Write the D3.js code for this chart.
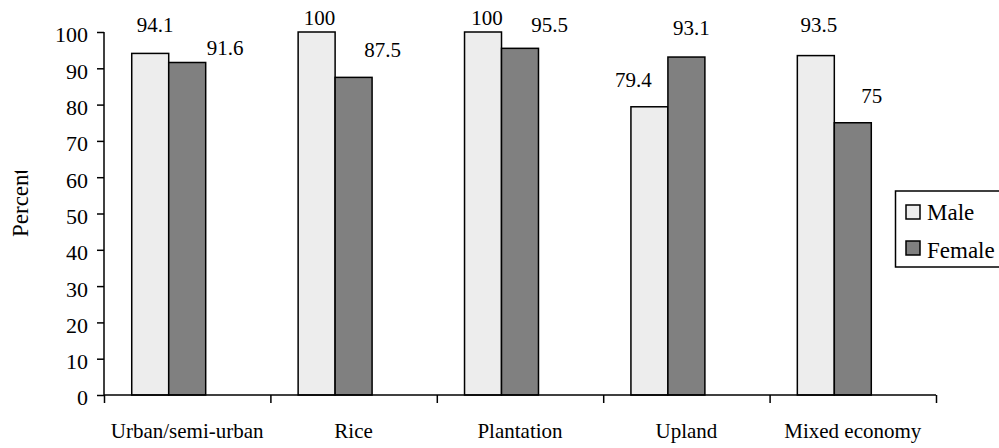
<!DOCTYPE html>
<html>
<head>
<meta charset="utf-8">
<script src="https://cdn.jsdelivr.net/npm/d3@7"></script>
<style>
  html, body { margin: 0; padding: 0; background: #fff; }
  svg { display: block; }
  svg text { font-family: "Liberation Serif", "Times New Roman", Times, Tinos, "DejaVu Serif", serif !important; fill: #000; }
</style>
</head>
<body>
<svg id="chart" width="999" height="448"></svg>
<script>
// ---- data ----
const categories = ["Urban/semi-urban", "Rice", "Plantation", "Upland", "Mixed economy"];
const seriesNames = ["Male", "Female"];
const maleValues = [94.1, 100, 100, 79.4, 93.5];
const femaleValues = [91.6, 87.5, 95.5, 93.1, 75];
const yTicks = [0, 10, 20, 30, 40, 50, 60, 70, 80, 90, 100];
const yTitle = "Percent";

// label placement tweaks (pixels, relative to bar centre / top) as in the original
const maleLabelOffsets = [[5, -21], [3, -7], [4, -7], [-16, -20], [3, -24]];
const femaleLabelOffsets = [[38, -7.5], [29, -20], [29.5, -16], [5, -22], [19, -20]];

const colors = { Male: "#ededed", Female: "#808080" };
const FONT = '"Liberation Serif", "Times New Roman", Times, Tinos, "DejaVu Serif", serif';

const svg = d3.select("#chart").attr("font-family", FONT);
const mLeft = 104, mRight = 936, mTop = 32, mBottom = 395;

const x = d3.scaleBand().domain(categories).range([mLeft, mRight]).padding(0);
// three slots per group (third empty), as the original chart layout
const x1 = d3.scaleBand().domain(["Male", "Female", "_"]).range([0, x.bandwidth()])
  .paddingInner(0).paddingOuter(0.75);
const y = d3.scaleLinear().domain([0, 100]).range([mBottom, mTop]);

const rows = categories.map((c, i) => ({ cat: c, Male: maleValues[i], Female: femaleValues[i], i }));

// bars
const g = svg.append("g");
seriesNames.forEach(s => {
  g.selectAll("rect." + s).data(rows).enter().append("rect")
    .attr("class", s)
    .attr("x", d => x(d.cat) + x1(s))
    .attr("y", d => y(d[s]))
    .attr("width", x1.bandwidth())
    .attr("height", d => y(0) - y(d[s]))
    .attr("fill", colors[s])
    .attr("stroke", "#000")
    .attr("stroke-width", 1.5);
});

// value labels
seriesNames.forEach(s => {
  const offs = s === "Male" ? maleLabelOffsets : femaleLabelOffsets;
  g.selectAll("text.lab" + s).data(rows).enter().append("text")
    .attr("class", "lab" + s)
    .attr("x", d => x(d.cat) + x1(s) + x1.bandwidth() / 2 + offs[d.i][0])
    .attr("y", d => y(d[s]) + offs[d.i][1])
    .attr("text-anchor", "middle")
    .attr("font-family", FONT)
    .attr("font-size", 21)
    .text(d => d[s]);
});

// y axis
const yAxis = svg.append("g").attr("transform", `translate(${mLeft},0)`)
  .call(d3.axisLeft(y).tickValues(yTicks).tickSize(7).tickPadding(9).tickFormat(d3.format("d")));
yAxis.attr("font-family", FONT).attr("font-size", 22);
yAxis.select(".domain").attr("stroke", "#000").attr("stroke-width", 1.5).attr("d", `M0,${mTop}V${mBottom}`);
yAxis.selectAll(".tick line").attr("stroke", "#000").attr("stroke-width", 1.5);
yAxis.selectAll(".tick text").attr("dy", "0.45em");

// x axis (ticks at group boundaries)
const xb = d3.scaleLinear().domain([0, categories.length]).range([mLeft, mRight]);
const xAxis = svg.append("g").attr("transform", `translate(0,${mBottom})`)
  .call(d3.axisBottom(xb).tickValues(d3.range(categories.length + 1)).tickSize(8).tickFormat(""));
xAxis.select(".domain").attr("stroke", "#000").attr("stroke-width", 1.5).attr("d", `M${mLeft},0H${mRight}`);
xAxis.selectAll(".tick line").attr("stroke", "#000").attr("stroke-width", 1.5);

// category labels
svg.selectAll("text.cat").data(categories).enter().append("text")
  .attr("class", "cat")
  .attr("x", d => x(d) + x.bandwidth() / 2)
  .attr("y", 438)
  .attr("text-anchor", "middle")
  .attr("font-family", FONT)
  .attr("font-size", 21)
  .text(d => d);

// y title (clipped at its top as in the original)
svg.append("clipPath").attr("id", "ytclip").append("rect")
  .attr("x", 0).attr("y", 171).attr("width", 60).attr("height", 120);
svg.append("g").attr("clip-path", "url(#ytclip)")
  .append("text")
  .attr("transform", "translate(28,237) rotate(-90)")
  .attr("text-anchor", "start")
  .attr("font-family", FONT)
  .attr("font-size", 23)
  .text(yTitle);

// legend
const lg = svg.append("g");
lg.append("rect").attr("x", 895.5).attr("y", 191).attr("width", 110).attr("height", 76)
  .attr("fill", "#fff").attr("stroke", "#000").attr("stroke-width", 1.5);
seriesNames.forEach((s, i) => {
  lg.append("rect").attr("x", 906).attr("y", 205 + i * 36).attr("width", 14).attr("height", 14)
    .attr("fill", colors[s]).attr("stroke", "#000").attr("stroke-width", 1.5);
  lg.append("text").attr("x", 927).attr("y", 220 + i * 37.5)
    .attr("font-family", FONT)
    .attr("font-size", 23).text(s);
});
</script>
</body>
</html>
